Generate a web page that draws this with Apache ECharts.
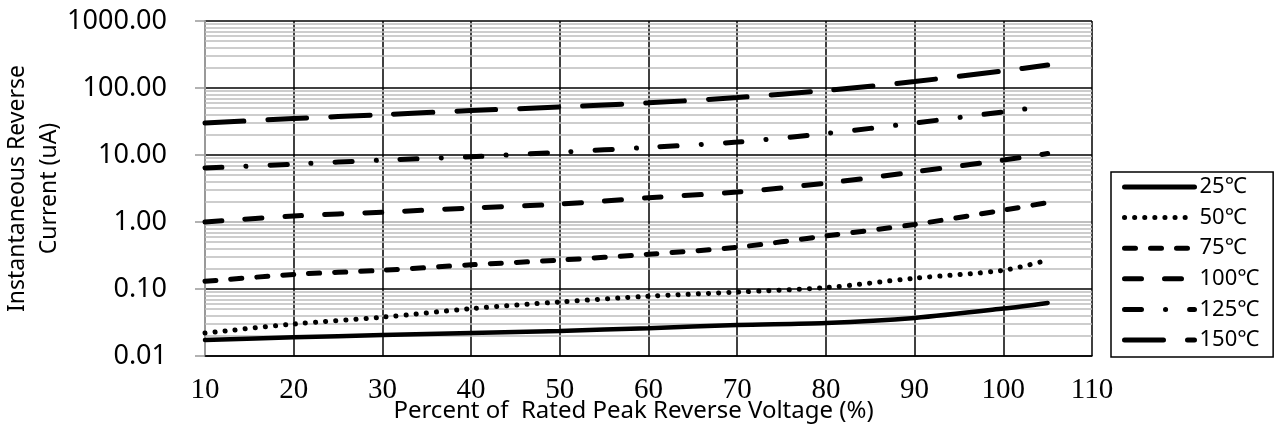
<!DOCTYPE html>
<html><head><meta charset="utf-8">
<script src="https://cdn.jsdelivr.net/npm/echarts@6/dist/echarts.min.js"></script>
<style>html,body{margin:0;padding:0;background:#fff}#c{width:1275px;height:429px}</style>
</head><body><div id="c"></div>
<script>
const voltage = [10, 20, 30, 40, 50, 60, 70, 80, 90, 100, 105];
const names = ['25℃', '50℃', '75℃', '100℃', '125℃', '150℃'];
const i25  = [0.0173, 0.019, 0.0205, 0.022, 0.0237, 0.026, 0.029, 0.031, 0.037, 0.051, 0.062];
const i50  = [0.022, 0.030, 0.038, 0.051, 0.064, 0.078, 0.090, 0.105, 0.145, 0.19, 0.27];
const i75  = [0.13, 0.165, 0.19, 0.23, 0.27, 0.33, 0.42, 0.62, 0.92, 1.5, 1.95];
const i100 = [1.0, 1.23, 1.4, 1.62, 1.85, 2.3, 2.8, 3.8, 5.6, 8.4, 10.5];
const i125 = [6.4, 7.3, 8.4, 9.4, 11, 13, 15.6, 21, 30, 44, 54];
const i150 = [30, 35, 40, 46, 52, 60, 72, 92, 125, 180, 220];
const minorGrid = [0.02,0.03,0.04,0.05,0.06,0.07,0.08,0.09,
  0.2,0.3,0.4,0.5,0.6,0.7,0.8,0.9, 2,3,4,5,6,7,8,9,
  20,30,40,50,60,70,80,90, 200,300,400,500,600,700,800,900];

const seriesData = [i25, i50, i75, i100, i125, i150];
const dashes = ['solid', [0.1, 10], [11, 15], [17, 23], [17, 24, 0.1, 24], [39, 24]];
const widths = [4.5, 5, 5, 5, 5, 5];

const chart = echarts.init(document.getElementById('c'));
const series = seriesData.map((d, k) => ({
  name: names[k], type: 'line', symbol: 'none', smooth: 0.3, z: 5,
  data: voltage.map((x, i) => [x, d[i]]),
  itemStyle: { color: '#000' },
  lineStyle: { color: '#000', width: widths[k], type: dashes[k], cap: 'round' }
}));
series.unshift({
  name: 'grid', type: 'line', data: [], z: 1, silent: true,
  markLine: { silent: true, symbol: 'none', label: { show: false }, animation: false,
    lineStyle: { color: '#bdbdbd', width: 1.6, type: 'solid' },
    data: minorGrid.map(v => ({ yAxis: v })) }
});

chart.setOption({
  animation: false,
  grid: { left: 205, right: 183, top: 21, bottom: 73, containLabel: false, outerBoundsMode: 'none' },
  xAxis: {
    type: 'value', min: 10, max: 110, interval: 10,
    name: 'Percent of  Rated Peak Reverse Voltage (%)', nameLocation: 'middle', nameGap: 43,
    nameMoveOverlap: false,
    nameTextStyle: { fontFamily: 'Noto Sans', fontSize: 24, color: '#000', padding: [0, 30, 0, 0] },
    axisLine: { show: true, lineStyle: { color: '#000', width: 1.5 } },
    axisTick: { show: false },
    axisLabel: { fontFamily: 'Liberation Serif', fontSize: 29, color: '#000', margin: 20 },
    splitLine: { show: true, showMinLine: false, lineStyle: { color: '#000', width: 1.5 } }
  },
  yAxis: {
    type: 'log', logBase: 10, min: 0.01, max: 1000,
    name: 'Instantaneous Reverse\nCurrent (uA)', nameLocation: 'middle', nameGap: 140,
    nameMoveOverlap: false,
    nameTextStyle: { fontFamily: 'Noto Sans', fontSize: 23, color: '#000', lineHeight: 32 },
    axisLine: { show: true, lineStyle: { color: '#999', width: 2 } },
    axisTick: { show: true, length: 10, lineStyle: { color: '#999', width: 1.5 } },
    axisLabel: { fontFamily: 'Noto Sans', fontSize: 27, color: '#000', margin: 38,
      formatter: v => Number(v).toFixed(2) },
    splitLine: { show: true, lineStyle: { color: ['#000', '#000', '#aaa', '#000', '#000', '#000'], width: 1.5 } }
  },
  legend: {
    data: names, orient: 'vertical', left: 1111, top: 172,
    itemWidth: 70, itemHeight: 14, itemGap: 8.6,
    padding: [4, 14, 6, 11], borderColor: '#000', borderWidth: 1.5, borderRadius: 0,
    itemStyle: { opacity: 0 },
    lineStyle: { width: 5, cap: 'round' },
    textStyle: { fontFamily: 'Noto Sans', fontSize: 22, color: '#000', lineHeight: 22 },
    selectedMode: false
  },
  series: series
});
</script></body></html>
